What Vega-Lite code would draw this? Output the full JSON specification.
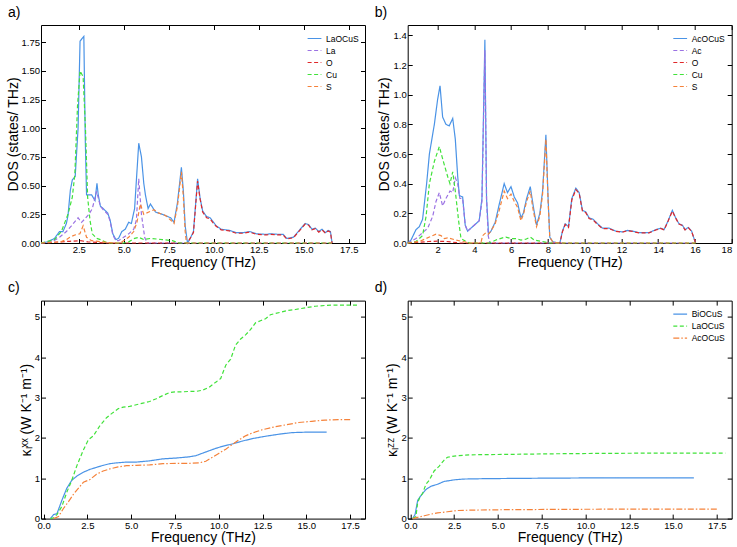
{
"$schema": "https://vega.github.io/schema/vega-lite/v6.json",
"padding": {"left": 5, "top": 5, "right": 5, "bottom": 5},
"config": {
  "view": {"stroke": "#000", "strokeWidth": 1},
  "font": "Liberation Sans",
  "axis": {"labelFont": "Liberation Sans", "labelFontSize": 9.5, "titleFont": "Liberation Sans", "titleFontSize": 14, "titleFontWeight": "normal", "labelColor": "#000", "titleColor": "#000", "tickColor": "#000", "domain": false, "grid": false, "tickSize": -4.5, "labelPadding": 6, "titlePadding": 1},
  "legend": {"orient": "top-right", "offset": 6, "labelFont": "Liberation Sans", "labelFontSize": 8.5, "labelColor": "#000", "symbolType": "stroke", "symbolSize": 190, "symbolStrokeWidth": 1.5, "rowPadding": 0, "labelOffset": 4, "padding": 0},
  "title": {"font": "Liberation Sans", "fontSize": 14, "fontWeight": "normal", "anchor": "start", "frame": "group", "dx": -33, "offset": 5, "color": "#000"},
  "line": {"strokeWidth": 1.2}
},
"columns": 2,
"spacing": {"row": 57.6, "column": 42.7},
"bounds": "flush",
"resolve": {"scale": {"color": "independent", "strokeDash": "independent"}},
"datasets": {
"a": [
{"s":"LaOCuS","f":0.41,"v":0},{"s":"LaOCuS","f":0.78,"v":0.01},{"s":"LaOCuS","f":1.15,"v":0.04},{"s":"LaOCuS","f":1.43,"v":0.1},{"s":"LaOCuS","f":1.62,"v":0.1},{"s":"LaOCuS","f":1.81,"v":0.17},{"s":"LaOCuS","f":1.9,"v":0.24},{"s":"LaOCuS","f":2.03,"v":0.46},{"s":"LaOCuS","f":2.14,"v":0.55},{"s":"LaOCuS","f":2.3,"v":0.58},{"s":"LaOCuS","f":2.46,"v":1.0},{"s":"LaOCuS","f":2.57,"v":1.76},{"s":"LaOCuS","f":2.78,"v":1.8},{"s":"LaOCuS","f":2.86,"v":0.9},{"s":"LaOCuS","f":2.93,"v":0.42},{"s":"LaOCuS","f":3.21,"v":0.42},{"s":"LaOCuS","f":3.4,"v":0.37},{"s":"LaOCuS","f":3.51,"v":0.52},{"s":"LaOCuS","f":3.58,"v":0.42},{"s":"LaOCuS","f":3.7,"v":0.32},{"s":"LaOCuS","f":3.86,"v":0.3},{"s":"LaOCuS","f":4.11,"v":0.26},{"s":"LaOCuS","f":4.24,"v":0.2},{"s":"LaOCuS","f":4.39,"v":0.08},{"s":"LaOCuS","f":4.56,"v":0.03},{"s":"LaOCuS","f":4.71,"v":0.04},{"s":"LaOCuS","f":4.89,"v":0.1},{"s":"LaOCuS","f":5.08,"v":0.12},{"s":"LaOCuS","f":5.27,"v":0.18},{"s":"LaOCuS","f":5.42,"v":0.17},{"s":"LaOCuS","f":5.6,"v":0.3},{"s":"LaOCuS","f":5.83,"v":0.87},{"s":"LaOCuS","f":5.98,"v":0.75},{"s":"LaOCuS","f":6.11,"v":0.52},{"s":"LaOCuS","f":6.2,"v":0.42},{"s":"LaOCuS","f":6.35,"v":0.3},{"s":"LaOCuS","f":6.48,"v":0.34},{"s":"LaOCuS","f":6.76,"v":0.27},{"s":"LaOCuS","f":7.14,"v":0.25},{"s":"LaOCuS","f":7.6,"v":0.22},{"s":"LaOCuS","f":7.79,"v":0.18},{"s":"LaOCuS","f":7.98,"v":0.35},{"s":"LaOCuS","f":8.2,"v":0.66},{"s":"LaOCuS","f":8.31,"v":0.45},{"s":"LaOCuS","f":8.41,"v":0.15},{"s":"LaOCuS","f":8.54,"v":0},{"s":"LaOCuS","f":8.72,"v":0.05},{"s":"LaOCuS","f":8.87,"v":0.1},{"s":"LaOCuS","f":9.1,"v":0.56},{"s":"LaOCuS","f":9.23,"v":0.4},{"s":"LaOCuS","f":9.38,"v":0.28},{"s":"LaOCuS","f":9.6,"v":0.23},{"s":"LaOCuS","f":9.79,"v":0.22},{"s":"LaOCuS","f":9.94,"v":0.19},{"s":"LaOCuS","f":10.13,"v":0.15},{"s":"LaOCuS","f":10.41,"v":0.12},{"s":"LaOCuS","f":10.87,"v":0.11},{"s":"LaOCuS","f":11.25,"v":0.09},{"s":"LaOCuS","f":11.62,"v":0.09},{"s":"LaOCuS","f":12.0,"v":0.1},{"s":"LaOCuS","f":12.37,"v":0.08},{"s":"LaOCuS","f":12.93,"v":0.075},{"s":"LaOCuS","f":13.12,"v":0.08},{"s":"LaOCuS","f":13.68,"v":0.075},{"s":"LaOCuS","f":13.86,"v":0.075},{"s":"LaOCuS","f":14.05,"v":0.04},{"s":"LaOCuS","f":14.42,"v":0.05},{"s":"LaOCuS","f":14.8,"v":0.12},{"s":"LaOCuS","f":15.08,"v":0.17},{"s":"LaOCuS","f":15.27,"v":0.16},{"s":"LaOCuS","f":15.45,"v":0.12},{"s":"LaOCuS","f":15.64,"v":0.13},{"s":"LaOCuS","f":15.83,"v":0.1},{"s":"LaOCuS","f":16.01,"v":0.12},{"s":"LaOCuS","f":16.2,"v":0.09},{"s":"LaOCuS","f":16.35,"v":0.11},{"s":"LaOCuS","f":16.48,"v":0.1},{"s":"LaOCuS","f":16.57,"v":0},
{"s":"La","f":0.41,"v":0},{"s":"La","f":1.0,"v":0.01},{"s":"La","f":1.43,"v":0.05},{"s":"La","f":1.81,"v":0.1},{"s":"La","f":2.09,"v":0.15},{"s":"La","f":2.46,"v":0.22},{"s":"La","f":2.65,"v":0.18},{"s":"La","f":2.84,"v":0.21},{"s":"La","f":3.06,"v":0.25},{"s":"La","f":3.25,"v":0.3},{"s":"La","f":3.49,"v":0.45},{"s":"La","f":3.7,"v":0.32},{"s":"La","f":3.86,"v":0.29},{"s":"La","f":4.11,"v":0.25},{"s":"La","f":4.24,"v":0.19},{"s":"La","f":4.39,"v":0.07},{"s":"La","f":4.56,"v":0.02},{"s":"La","f":4.71,"v":0.02},{"s":"La","f":4.99,"v":0.05},{"s":"La","f":5.27,"v":0.08},{"s":"La","f":5.55,"v":0.12},{"s":"La","f":5.7,"v":0.2},{"s":"La","f":5.83,"v":0.56},{"s":"La","f":5.98,"v":0.25},{"s":"La","f":6.16,"v":0.05},{"s":"La","f":6.29,"v":0},{"s":"La","f":16.57,"v":0},
{"s":"O","f":0.41,"v":0},{"s":"O","f":1.5,"v":0.01},{"s":"O","f":2.0,"v":0.015},{"s":"O","f":2.6,"v":0.02},{"s":"O","f":3.0,"v":0.01},{"s":"O","f":4.0,"v":0},{"s":"O","f":8.54,"v":0},{"s":"O","f":8.72,"v":0.05},{"s":"O","f":8.87,"v":0.09},{"s":"O","f":9.1,"v":0.54},{"s":"O","f":9.23,"v":0.39},{"s":"O","f":9.38,"v":0.27},{"s":"O","f":9.6,"v":0.22},{"s":"O","f":9.79,"v":0.21},{"s":"O","f":9.94,"v":0.18},{"s":"O","f":10.13,"v":0.145},{"s":"O","f":10.41,"v":0.115},{"s":"O","f":10.87,"v":0.105},{"s":"O","f":11.25,"v":0.085},{"s":"O","f":11.62,"v":0.085},{"s":"O","f":12.0,"v":0.095},{"s":"O","f":12.37,"v":0.075},{"s":"O","f":12.93,"v":0.07},{"s":"O","f":13.12,"v":0.075},{"s":"O","f":13.68,"v":0.07},{"s":"O","f":13.86,"v":0.07},{"s":"O","f":14.05,"v":0.035},{"s":"O","f":14.42,"v":0.045},{"s":"O","f":14.8,"v":0.115},{"s":"O","f":15.08,"v":0.165},{"s":"O","f":15.27,"v":0.155},{"s":"O","f":15.45,"v":0.115},{"s":"O","f":15.64,"v":0.125},{"s":"O","f":15.83,"v":0.095},{"s":"O","f":16.01,"v":0.115},{"s":"O","f":16.2,"v":0.085},{"s":"O","f":16.35,"v":0.105},{"s":"O","f":16.48,"v":0.095},{"s":"O","f":16.57,"v":0},
{"s":"Cu","f":0.41,"v":0},{"s":"Cu","f":1.15,"v":0.03},{"s":"Cu","f":1.53,"v":0.1},{"s":"Cu","f":1.9,"v":0.25},{"s":"Cu","f":2.14,"v":0.4},{"s":"Cu","f":2.28,"v":0.6},{"s":"Cu","f":2.43,"v":1.2},{"s":"Cu","f":2.57,"v":1.5},{"s":"Cu","f":2.74,"v":1.45},{"s":"Cu","f":2.87,"v":1.0},{"s":"Cu","f":2.99,"v":0.4},{"s":"Cu","f":3.12,"v":0.2},{"s":"Cu","f":3.25,"v":0.08},{"s":"Cu","f":3.49,"v":0.04},{"s":"Cu","f":3.7,"v":0.03},{"s":"Cu","f":3.96,"v":0.01},{"s":"Cu","f":4.2,"v":0},{"s":"Cu","f":5.0,"v":0},{"s":"Cu","f":5.27,"v":0.01},{"s":"Cu","f":5.6,"v":0.04},{"s":"Cu","f":5.83,"v":0.05},{"s":"Cu","f":6.11,"v":0.03},{"s":"Cu","f":6.48,"v":0.04},{"s":"Cu","f":7.14,"v":0.03},{"s":"Cu","f":7.7,"v":0.02},{"s":"Cu","f":8.07,"v":0},{"s":"Cu","f":16.57,"v":0},
{"s":"S","f":0.41,"v":0},{"s":"S","f":1.5,"v":0.01},{"s":"S","f":1.81,"v":0.03},{"s":"S","f":2.0,"v":0.05},{"s":"S","f":2.28,"v":0.07},{"s":"S","f":2.56,"v":0.08},{"s":"S","f":2.74,"v":0.15},{"s":"S","f":2.93,"v":0.05},{"s":"S","f":3.21,"v":0.02},{"s":"S","f":3.77,"v":0.01},{"s":"S","f":4.4,"v":0},{"s":"S","f":4.8,"v":0},{"s":"S","f":4.99,"v":0.02},{"s":"S","f":5.27,"v":0.05},{"s":"S","f":5.55,"v":0.1},{"s":"S","f":5.73,"v":0.18},{"s":"S","f":5.92,"v":0.34},{"s":"S","f":6.11,"v":0.25},{"s":"S","f":6.39,"v":0.27},{"s":"S","f":6.67,"v":0.29},{"s":"S","f":6.95,"v":0.26},{"s":"S","f":7.32,"v":0.24},{"s":"S","f":7.6,"v":0.2},{"s":"S","f":7.79,"v":0.17},{"s":"S","f":7.98,"v":0.32},{"s":"S","f":8.2,"v":0.62},{"s":"S","f":8.31,"v":0.4},{"s":"S","f":8.41,"v":0.1},{"s":"S","f":8.48,"v":0},{"s":"S","f":16.57,"v":0}
],
"b": [
{"s":"AcOCuS","f":0.37,"v":0},{"s":"AcOCuS","f":0.55,"v":0.02},{"s":"AcOCuS","f":0.82,"v":0.09},{"s":"AcOCuS","f":1.0,"v":0.11},{"s":"AcOCuS","f":1.18,"v":0.16},{"s":"AcOCuS","f":1.4,"v":0.4},{"s":"AcOCuS","f":1.55,"v":0.6},{"s":"AcOCuS","f":1.82,"v":0.8},{"s":"AcOCuS","f":2.0,"v":0.97},{"s":"AcOCuS","f":2.13,"v":1.06},{"s":"AcOCuS","f":2.27,"v":0.85},{"s":"AcOCuS","f":2.45,"v":0.8},{"s":"AcOCuS","f":2.63,"v":0.79},{"s":"AcOCuS","f":2.82,"v":0.84},{"s":"AcOCuS","f":2.96,"v":0.7},{"s":"AcOCuS","f":3.09,"v":0.45},{"s":"AcOCuS","f":3.18,"v":0.32},{"s":"AcOCuS","f":3.36,"v":0.31},{"s":"AcOCuS","f":3.5,"v":0.12},{"s":"AcOCuS","f":3.63,"v":0.08},{"s":"AcOCuS","f":3.81,"v":0.1},{"s":"AcOCuS","f":4.08,"v":0.13},{"s":"AcOCuS","f":4.26,"v":0.15},{"s":"AcOCuS","f":4.41,"v":0.3},{"s":"AcOCuS","f":4.57,"v":1.37},{"s":"AcOCuS","f":4.66,"v":0.3},{"s":"AcOCuS","f":4.77,"v":0.06},{"s":"AcOCuS","f":4.9,"v":0.08},{"s":"AcOCuS","f":5.13,"v":0.14},{"s":"AcOCuS","f":5.35,"v":0.26},{"s":"AcOCuS","f":5.62,"v":0.4},{"s":"AcOCuS","f":5.8,"v":0.34},{"s":"AcOCuS","f":5.99,"v":0.38},{"s":"AcOCuS","f":6.17,"v":0.31},{"s":"AcOCuS","f":6.35,"v":0.27},{"s":"AcOCuS","f":6.53,"v":0.17},{"s":"AcOCuS","f":6.66,"v":0.2},{"s":"AcOCuS","f":6.84,"v":0.3},{"s":"AcOCuS","f":7.04,"v":0.38},{"s":"AcOCuS","f":7.2,"v":0.25},{"s":"AcOCuS","f":7.38,"v":0.12},{"s":"AcOCuS","f":7.56,"v":0.2},{"s":"AcOCuS","f":7.71,"v":0.35},{"s":"AcOCuS","f":7.89,"v":0.73},{"s":"AcOCuS","f":8.01,"v":0.3},{"s":"AcOCuS","f":8.1,"v":0.04},{"s":"AcOCuS","f":8.25,"v":0.01},{"s":"AcOCuS","f":8.52,"v":0},{"s":"AcOCuS","f":8.65,"v":0},{"s":"AcOCuS","f":8.79,"v":0.08},{"s":"AcOCuS","f":8.94,"v":0.13},{"s":"AcOCuS","f":9.12,"v":0.11},{"s":"AcOCuS","f":9.3,"v":0.3},{"s":"AcOCuS","f":9.52,"v":0.37},{"s":"AcOCuS","f":9.7,"v":0.34},{"s":"AcOCuS","f":9.88,"v":0.22},{"s":"AcOCuS","f":10.06,"v":0.21},{"s":"AcOCuS","f":10.24,"v":0.17},{"s":"AcOCuS","f":10.46,"v":0.16},{"s":"AcOCuS","f":10.7,"v":0.13},{"s":"AcOCuS","f":10.97,"v":0.1},{"s":"AcOCuS","f":11.33,"v":0.1},{"s":"AcOCuS","f":11.69,"v":0.08},{"s":"AcOCuS","f":12.05,"v":0.075},{"s":"AcOCuS","f":12.33,"v":0.085},{"s":"AcOCuS","f":12.6,"v":0.08},{"s":"AcOCuS","f":12.96,"v":0.07},{"s":"AcOCuS","f":13.5,"v":0.07},{"s":"AcOCuS","f":13.87,"v":0.09},{"s":"AcOCuS","f":14.14,"v":0.1},{"s":"AcOCuS","f":14.32,"v":0.09},{"s":"AcOCuS","f":14.54,"v":0.15},{"s":"AcOCuS","f":14.77,"v":0.22},{"s":"AcOCuS","f":14.95,"v":0.17},{"s":"AcOCuS","f":15.13,"v":0.13},{"s":"AcOCuS","f":15.32,"v":0.12},{"s":"AcOCuS","f":15.46,"v":0.09},{"s":"AcOCuS","f":15.64,"v":0.105},{"s":"AcOCuS","f":15.82,"v":0.08},{"s":"AcOCuS","f":15.95,"v":0.03},{"s":"AcOCuS","f":16.04,"v":0},
{"s":"Ac","f":0.37,"v":0},{"s":"Ac","f":0.82,"v":0.03},{"s":"Ac","f":1.0,"v":0.05},{"s":"Ac","f":1.28,"v":0.08},{"s":"Ac","f":1.46,"v":0.1},{"s":"Ac","f":1.73,"v":0.18},{"s":"Ac","f":1.91,"v":0.28},{"s":"Ac","f":2.09,"v":0.34},{"s":"Ac","f":2.27,"v":0.25},{"s":"Ac","f":2.45,"v":0.3},{"s":"Ac","f":2.67,"v":0.35},{"s":"Ac","f":2.82,"v":0.34},{"s":"Ac","f":2.96,"v":0.44},{"s":"Ac","f":3.09,"v":0.4},{"s":"Ac","f":3.21,"v":0.3},{"s":"Ac","f":3.36,"v":0.3},{"s":"Ac","f":3.5,"v":0.12},{"s":"Ac","f":3.63,"v":0.08},{"s":"Ac","f":3.81,"v":0.1},{"s":"Ac","f":4.08,"v":0.13},{"s":"Ac","f":4.26,"v":0.15},{"s":"Ac","f":4.41,"v":0.28},{"s":"Ac","f":4.57,"v":1.3},{"s":"Ac","f":4.66,"v":0.3},{"s":"Ac","f":4.75,"v":0.05},{"s":"Ac","f":4.84,"v":0},{"s":"Ac","f":16.04,"v":0},
{"s":"O","f":0.37,"v":0},{"s":"O","f":1.5,"v":0.01},{"s":"O","f":2.0,"v":0.012},{"s":"O","f":2.5,"v":0.01},{"s":"O","f":3.2,"v":0},{"s":"O","f":8.65,"v":0},{"s":"O","f":8.79,"v":0.075},{"s":"O","f":8.94,"v":0.125},{"s":"O","f":9.12,"v":0.105},{"s":"O","f":9.3,"v":0.29},{"s":"O","f":9.52,"v":0.36},{"s":"O","f":9.7,"v":0.335},{"s":"O","f":9.88,"v":0.215},{"s":"O","f":10.06,"v":0.205},{"s":"O","f":10.24,"v":0.165},{"s":"O","f":10.46,"v":0.155},{"s":"O","f":10.7,"v":0.125},{"s":"O","f":10.97,"v":0.097},{"s":"O","f":11.33,"v":0.097},{"s":"O","f":11.69,"v":0.078},{"s":"O","f":12.05,"v":0.073},{"s":"O","f":12.33,"v":0.083},{"s":"O","f":12.6,"v":0.078},{"s":"O","f":12.96,"v":0.068},{"s":"O","f":13.5,"v":0.068},{"s":"O","f":13.87,"v":0.088},{"s":"O","f":14.14,"v":0.098},{"s":"O","f":14.32,"v":0.088},{"s":"O","f":14.54,"v":0.148},{"s":"O","f":14.77,"v":0.215},{"s":"O","f":14.95,"v":0.168},{"s":"O","f":15.13,"v":0.128},{"s":"O","f":15.32,"v":0.118},{"s":"O","f":15.46,"v":0.088},{"s":"O","f":15.64,"v":0.103},{"s":"O","f":15.82,"v":0.078},{"s":"O","f":15.95,"v":0.03},{"s":"O","f":16.04,"v":0},
{"s":"Cu","f":0.37,"v":0},{"s":"Cu","f":0.82,"v":0.01},{"s":"Cu","f":1.18,"v":0.05},{"s":"Cu","f":1.37,"v":0.18},{"s":"Cu","f":1.55,"v":0.4},{"s":"Cu","f":1.82,"v":0.55},{"s":"Cu","f":2.09,"v":0.65},{"s":"Cu","f":2.31,"v":0.55},{"s":"Cu","f":2.54,"v":0.45},{"s":"Cu","f":2.67,"v":0.4},{"s":"Cu","f":2.82,"v":0.48},{"s":"Cu","f":2.96,"v":0.35},{"s":"Cu","f":3.14,"v":0.15},{"s":"Cu","f":3.27,"v":0.03},{"s":"Cu","f":3.54,"v":0.01},{"s":"Cu","f":3.72,"v":0},{"s":"Cu","f":4.8,"v":0},{"s":"Cu","f":4.99,"v":0.01},{"s":"Cu","f":5.17,"v":0.02},{"s":"Cu","f":5.53,"v":0.035},{"s":"Cu","f":5.71,"v":0.04},{"s":"Cu","f":5.99,"v":0.03},{"s":"Cu","f":6.26,"v":0.03},{"s":"Cu","f":6.53,"v":0.02},{"s":"Cu","f":6.8,"v":0.025},{"s":"Cu","f":7.04,"v":0.04},{"s":"Cu","f":7.25,"v":0.02},{"s":"Cu","f":7.71,"v":0.01},{"s":"Cu","f":8.07,"v":0},{"s":"Cu","f":16.04,"v":0},
{"s":"S","f":0.37,"v":0},{"s":"S","f":1.0,"v":0.01},{"s":"S","f":1.55,"v":0.04},{"s":"S","f":1.91,"v":0.06},{"s":"S","f":2.18,"v":0.05},{"s":"S","f":2.36,"v":0.03},{"s":"S","f":2.54,"v":0.035},{"s":"S","f":3.0,"v":0.02},{"s":"S","f":3.36,"v":0.01},{"s":"S","f":3.72,"v":0},{"s":"S","f":4.35,"v":0},{"s":"S","f":4.45,"v":0.05},{"s":"S","f":4.63,"v":0.07},{"s":"S","f":4.75,"v":0.06},{"s":"S","f":4.9,"v":0.08},{"s":"S","f":5.13,"v":0.13},{"s":"S","f":5.35,"v":0.22},{"s":"S","f":5.62,"v":0.35},{"s":"S","f":5.8,"v":0.3},{"s":"S","f":5.99,"v":0.33},{"s":"S","f":6.17,"v":0.28},{"s":"S","f":6.35,"v":0.24},{"s":"S","f":6.53,"v":0.15},{"s":"S","f":6.66,"v":0.19},{"s":"S","f":6.84,"v":0.28},{"s":"S","f":7.04,"v":0.35},{"s":"S","f":7.2,"v":0.22},{"s":"S","f":7.38,"v":0.11},{"s":"S","f":7.56,"v":0.18},{"s":"S","f":7.71,"v":0.33},{"s":"S","f":7.89,"v":0.7},{"s":"S","f":8.01,"v":0.28},{"s":"S","f":8.1,"v":0.04},{"s":"S","f":8.25,"v":0.01},{"s":"S","f":8.52,"v":0},{"s":"S","f":16.04,"v":0}
],
"c": [
{"s":"BiOCuS","f":0.38,"v":0},{"s":"BiOCuS","f":0.57,"v":0.1},{"s":"BiOCuS","f":0.76,"v":0.12},{"s":"BiOCuS","f":1.04,"v":0.45},{"s":"BiOCuS","f":1.32,"v":0.75},{"s":"BiOCuS","f":1.61,"v":0.95},{"s":"BiOCuS","f":1.89,"v":1.05},{"s":"BiOCuS","f":2.27,"v":1.15},{"s":"BiOCuS","f":2.65,"v":1.22},{"s":"BiOCuS","f":3.02,"v":1.27},{"s":"BiOCuS","f":3.4,"v":1.32},{"s":"BiOCuS","f":3.78,"v":1.36},{"s":"BiOCuS","f":4.16,"v":1.38},{"s":"BiOCuS","f":4.73,"v":1.4},{"s":"BiOCuS","f":5.29,"v":1.4},{"s":"BiOCuS","f":6.05,"v":1.43},{"s":"BiOCuS","f":6.81,"v":1.48},{"s":"BiOCuS","f":7.56,"v":1.5},{"s":"BiOCuS","f":8.32,"v":1.53},{"s":"BiOCuS","f":8.7,"v":1.56},{"s":"BiOCuS","f":9.07,"v":1.62},{"s":"BiOCuS","f":9.45,"v":1.68},{"s":"BiOCuS","f":9.83,"v":1.74},{"s":"BiOCuS","f":10.21,"v":1.79},{"s":"BiOCuS","f":10.78,"v":1.85},{"s":"BiOCuS","f":11.34,"v":1.92},{"s":"BiOCuS","f":11.91,"v":1.98},{"s":"BiOCuS","f":12.67,"v":2.04},{"s":"BiOCuS","f":13.42,"v":2.09},{"s":"BiOCuS","f":14.18,"v":2.13},{"s":"BiOCuS","f":14.93,"v":2.14},{"s":"BiOCuS","f":16.16,"v":2.14},
{"s":"LaOCuS","f":0.38,"v":0},{"s":"LaOCuS","f":0.57,"v":0.02},{"s":"LaOCuS","f":0.76,"v":0.1},{"s":"LaOCuS","f":1.04,"v":0.3},{"s":"LaOCuS","f":1.32,"v":0.65},{"s":"LaOCuS","f":1.61,"v":0.95},{"s":"LaOCuS","f":1.89,"v":1.3},{"s":"LaOCuS","f":2.27,"v":1.7},{"s":"LaOCuS","f":2.55,"v":1.95},{"s":"LaOCuS","f":2.84,"v":2.05},{"s":"LaOCuS","f":3.21,"v":2.3},{"s":"LaOCuS","f":3.59,"v":2.5},{"s":"LaOCuS","f":3.88,"v":2.6},{"s":"LaOCuS","f":4.25,"v":2.72},{"s":"LaOCuS","f":4.54,"v":2.76},{"s":"LaOCuS","f":4.91,"v":2.78},{"s":"LaOCuS","f":5.29,"v":2.82},{"s":"LaOCuS","f":5.67,"v":2.86},{"s":"LaOCuS","f":6.05,"v":2.9},{"s":"LaOCuS","f":6.43,"v":2.97},{"s":"LaOCuS","f":6.81,"v":3.05},{"s":"LaOCuS","f":7.18,"v":3.12},{"s":"LaOCuS","f":7.56,"v":3.14},{"s":"LaOCuS","f":7.94,"v":3.14},{"s":"LaOCuS","f":8.32,"v":3.15},{"s":"LaOCuS","f":8.7,"v":3.15},{"s":"LaOCuS","f":9.07,"v":3.18},{"s":"LaOCuS","f":9.45,"v":3.25},{"s":"LaOCuS","f":9.83,"v":3.38},{"s":"LaOCuS","f":10.11,"v":3.47},{"s":"LaOCuS","f":10.4,"v":3.8},{"s":"LaOCuS","f":10.68,"v":3.95},{"s":"LaOCuS","f":10.96,"v":4.3},{"s":"LaOCuS","f":11.25,"v":4.45},{"s":"LaOCuS","f":11.53,"v":4.55},{"s":"LaOCuS","f":11.81,"v":4.68},{"s":"LaOCuS","f":12.1,"v":4.85},{"s":"LaOCuS","f":12.38,"v":4.9},{"s":"LaOCuS","f":12.67,"v":4.95},{"s":"LaOCuS","f":12.95,"v":5.05},{"s":"LaOCuS","f":13.23,"v":5.08},{"s":"LaOCuS","f":13.61,"v":5.12},{"s":"LaOCuS","f":13.99,"v":5.16},{"s":"LaOCuS","f":14.37,"v":5.18},{"s":"LaOCuS","f":14.93,"v":5.22},{"s":"LaOCuS","f":15.5,"v":5.26},{"s":"LaOCuS","f":16.07,"v":5.28},{"s":"LaOCuS","f":16.64,"v":5.29},{"s":"LaOCuS","f":17.3,"v":5.29},{"s":"LaOCuS","f":17.96,"v":5.29},
{"s":"AcOCuS","f":0.57,"v":0},{"s":"AcOCuS","f":0.85,"v":0.05},{"s":"AcOCuS","f":1.13,"v":0.25},{"s":"AcOCuS","f":1.42,"v":0.42},{"s":"AcOCuS","f":1.7,"v":0.6},{"s":"AcOCuS","f":1.98,"v":0.75},{"s":"AcOCuS","f":2.27,"v":0.9},{"s":"AcOCuS","f":2.65,"v":0.97},{"s":"AcOCuS","f":3.02,"v":1.1},{"s":"AcOCuS","f":3.4,"v":1.18},{"s":"AcOCuS","f":3.78,"v":1.23},{"s":"AcOCuS","f":4.25,"v":1.28},{"s":"AcOCuS","f":4.73,"v":1.31},{"s":"AcOCuS","f":5.29,"v":1.32},{"s":"AcOCuS","f":6.05,"v":1.33},{"s":"AcOCuS","f":6.81,"v":1.36},{"s":"AcOCuS","f":7.56,"v":1.37},{"s":"AcOCuS","f":8.32,"v":1.37},{"s":"AcOCuS","f":8.88,"v":1.38},{"s":"AcOCuS","f":9.26,"v":1.42},{"s":"AcOCuS","f":9.64,"v":1.52},{"s":"AcOCuS","f":10.02,"v":1.62},{"s":"AcOCuS","f":10.4,"v":1.72},{"s":"AcOCuS","f":10.78,"v":1.84},{"s":"AcOCuS","f":11.15,"v":1.95},{"s":"AcOCuS","f":11.53,"v":2.05},{"s":"AcOCuS","f":11.91,"v":2.12},{"s":"AcOCuS","f":12.48,"v":2.2},{"s":"AcOCuS","f":13.04,"v":2.26},{"s":"AcOCuS","f":13.8,"v":2.32},{"s":"AcOCuS","f":14.56,"v":2.38},{"s":"AcOCuS","f":15.31,"v":2.41},{"s":"AcOCuS","f":16.07,"v":2.44},{"s":"AcOCuS","f":16.82,"v":2.45},{"s":"AcOCuS","f":17.58,"v":2.45}
],
"d": [
{"s":"BiOCuS","f":0.13,"v":0},{"s":"BiOCuS","f":0.27,"v":0.1},{"s":"BiOCuS","f":0.42,"v":0.45},{"s":"BiOCuS","f":0.57,"v":0.55},{"s":"BiOCuS","f":0.7,"v":0.62},{"s":"BiOCuS","f":0.89,"v":0.72},{"s":"BiOCuS","f":1.17,"v":0.8},{"s":"BiOCuS","f":1.55,"v":0.85},{"s":"BiOCuS","f":1.93,"v":0.92},{"s":"BiOCuS","f":2.5,"v":0.96},{"s":"BiOCuS","f":3.07,"v":0.98},{"s":"BiOCuS","f":4.39,"v":0.99},{"s":"BiOCuS","f":7.23,"v":1.0},{"s":"BiOCuS","f":11.02,"v":1.01},{"s":"BiOCuS","f":16.19,"v":1.01},
{"s":"LaOCuS","f":0.13,"v":0},{"s":"LaOCuS","f":0.32,"v":0.05},{"s":"LaOCuS","f":0.42,"v":0.4},{"s":"LaOCuS","f":0.57,"v":0.55},{"s":"LaOCuS","f":0.7,"v":0.62},{"s":"LaOCuS","f":0.89,"v":0.85},{"s":"LaOCuS","f":1.08,"v":0.95},{"s":"LaOCuS","f":1.36,"v":1.18},{"s":"LaOCuS","f":1.65,"v":1.3},{"s":"LaOCuS","f":1.93,"v":1.45},{"s":"LaOCuS","f":2.12,"v":1.52},{"s":"LaOCuS","f":2.69,"v":1.56},{"s":"LaOCuS","f":3.45,"v":1.58},{"s":"LaOCuS","f":5.34,"v":1.59},{"s":"LaOCuS","f":9.13,"v":1.61},{"s":"LaOCuS","f":12.92,"v":1.62},{"s":"LaOCuS","f":17.99,"v":1.62},
{"s":"AcOCuS","f":0.13,"v":0},{"s":"AcOCuS","f":0.42,"v":0.03},{"s":"AcOCuS","f":0.8,"v":0.07},{"s":"AcOCuS","f":1.17,"v":0.11},{"s":"AcOCuS","f":1.55,"v":0.14},{"s":"AcOCuS","f":2.12,"v":0.17},{"s":"AcOCuS","f":2.69,"v":0.2},{"s":"AcOCuS","f":3.45,"v":0.21},{"s":"AcOCuS","f":5.34,"v":0.22},{"s":"AcOCuS","f":9.13,"v":0.23},{"s":"AcOCuS","f":12.92,"v":0.235},{"s":"AcOCuS","f":17.56,"v":0.235}
]
},
"concat": [
{
  "width": 324, "height": 218,
  "title": {"text": "a)"},
  "data": {"name": "a"},
  "layer": [
    {"mark": {"type": "line"},
     "encoding": {
       "x": {"field": "f", "type": "quantitative", "scale": {"domain": [0.4, 18.4], "nice": false, "zero": false}, "axis": {"values": [2.5,5,7.5,10,12.5,15,17.5], "format": ".1f", "title": "Frequency (THz)"}},
       "y": {"field": "v", "type": "quantitative", "scale": {"domain": [0, 1.9], "nice": false}, "axis": {"values": [0,0.25,0.5,0.75,1,1.25,1.5,1.75], "format": ".2f", "title": "DOS (states/ THz)"}},
       "color": {"field": "s", "type": "nominal", "sort": null, "scale": {"domain": ["LaOCuS","La","O","Cu","S"], "range": ["#4a93e6","#9b72e3","#e0282a","#41e23a","#f5823a"]}, "legend": {"title": null}},
       "strokeDash": {"field": "s", "type": "nominal", "sort": null, "scale": {"domain": ["LaOCuS","La","O","Cu","S"], "range": [[1,0],[4,2.5],[4,2.5],[4,2.5],[4,2.5]]}, "legend": {"title": null}}
     }},
    {"mark": {"type": "line", "opacity": 0},
     "encoding": {
       "x": {"field": "f", "type": "quantitative", "axis": {"orient": "top", "values": [2.5,5,7.5,10,12.5,15,17.5], "labels": false, "title": null}},
       "y": {"field": "v", "type": "quantitative", "axis": {"orient": "right", "values": [0,0.25,0.5,0.75,1,1.25,1.5,1.75], "labels": false, "title": null}}
     }}
  ],
  "resolve": {"axis": {"x": "independent", "y": "independent"}}
},
{
  "width": 324, "height": 218,
  "title": {"text": "b)"},
  "data": {"name": "b"},
  "layer": [
    {"mark": {"type": "line"},
     "encoding": {
       "x": {"field": "f", "type": "quantitative", "scale": {"domain": [0.37, 18], "nice": false, "zero": false}, "axis": {"values": [2,4,6,8,10,12,14,16,18], "format": "d", "title": "Frequency (THz)"}},
       "y": {"field": "v", "type": "quantitative", "scale": {"domain": [0, 1.47], "nice": false}, "axis": {"values": [0,0.2,0.4,0.6,0.8,1,1.2,1.4], "format": ".1f", "title": "DOS (states/ THz)"}},
       "color": {"field": "s", "type": "nominal", "sort": null, "scale": {"domain": ["AcOCuS","Ac","O","Cu","S"], "range": ["#4a93e6","#9b72e3","#e0282a","#41e23a","#f5823a"]}, "legend": {"title": null}},
       "strokeDash": {"field": "s", "type": "nominal", "sort": null, "scale": {"domain": ["AcOCuS","Ac","O","Cu","S"], "range": [[1,0],[4,2.5],[4,2.5],[4,2.5],[4,2.5]]}, "legend": {"title": null}}
     }},
    {"mark": {"type": "line", "opacity": 0},
     "encoding": {
       "x": {"field": "f", "type": "quantitative", "axis": {"orient": "top", "values": [2,4,6,8,10,12,14,16,18], "labels": false, "title": null}},
       "y": {"field": "v", "type": "quantitative", "axis": {"orient": "right", "values": [0,0.2,0.4,0.6,0.8,1,1.2,1.4], "labels": false, "title": null}}
     }}
  ],
  "resolve": {"axis": {"x": "independent", "y": "independent"}}
},
{
  "width": 324, "height": 218,
  "title": {"text": "c)"},
  "data": {"name": "c"},
  "layer": [
    {"mark": {"type": "line"},
     "encoding": {
       "x": {"field": "f", "type": "quantitative", "scale": {"domain": [-0.15, 18.35], "nice": false, "zero": false}, "axis": {"values": [0,2.5,5,7.5,10,12.5,15,17.5], "format": ".1f", "title": "Frequency (THz)"}},
       "y": {"field": "v", "type": "quantitative", "scale": {"domain": [0, 5.4], "nice": false}, "axis": {"values": [0,1,2,3,4,5], "format": "d", "title": "κₗˣˣ (W K⁻¹ m⁻¹)"}},
       "color": {"field": "s", "type": "nominal", "sort": null, "scale": {"domain": ["BiOCuS","LaOCuS","AcOCuS"], "range": ["#4a93e6","#41e23a","#f5823a"]}, "legend": null},
       "strokeDash": {"field": "s", "type": "nominal", "sort": null, "scale": {"domain": ["BiOCuS","LaOCuS","AcOCuS"], "range": [[1,0],[4,2.5],[6,2,1.5,2]]}, "legend": null}
     }},
    {"mark": {"type": "line", "opacity": 0},
     "encoding": {
       "x": {"field": "f", "type": "quantitative", "axis": {"orient": "top", "values": [0,2.5,5,7.5,10,12.5,15,17.5], "labels": false, "title": null}},
       "y": {"field": "v", "type": "quantitative", "axis": {"orient": "right", "values": [0,1,2,3,4,5], "labels": false, "title": null}}
     }}
  ],
  "resolve": {"axis": {"x": "independent", "y": "independent"}}
},
{
  "width": 324, "height": 218,
  "title": {"text": "d)"},
  "data": {"name": "d"},
  "layer": [
    {"mark": {"type": "line"},
     "encoding": {
       "x": {"field": "f", "type": "quantitative", "scale": {"domain": [-0.15, 18.35], "nice": false, "zero": false}, "axis": {"values": [0,2.5,5,7.5,10,12.5,15,17.5], "format": ".1f", "title": "Frequency (THz)"}},
       "y": {"field": "v", "type": "quantitative", "scale": {"domain": [0, 5.4], "nice": false}, "axis": {"values": [0,1,2,3,4,5], "format": "d", "title": "κₗᶻᶻ (W K⁻¹ m⁻¹)"}},
       "color": {"field": "s", "type": "nominal", "sort": null, "scale": {"domain": ["BiOCuS","LaOCuS","AcOCuS"], "range": ["#4a93e6","#41e23a","#f5823a"]}, "legend": {"title": null}},
       "strokeDash": {"field": "s", "type": "nominal", "sort": null, "scale": {"domain": ["BiOCuS","LaOCuS","AcOCuS"], "range": [[1,0],[4,2.5],[6,2,1.5,2]]}, "legend": {"title": null}}
     }},
    {"mark": {"type": "line", "opacity": 0},
     "encoding": {
       "x": {"field": "f", "type": "quantitative", "axis": {"orient": "top", "values": [0,2.5,5,7.5,10,12.5,15,17.5], "labels": false, "title": null}},
       "y": {"field": "v", "type": "quantitative", "axis": {"orient": "right", "values": [0,1,2,3,4,5], "labels": false, "title": null}}
     }}
  ],
  "resolve": {"axis": {"x": "independent", "y": "independent"}}
}
]
}
